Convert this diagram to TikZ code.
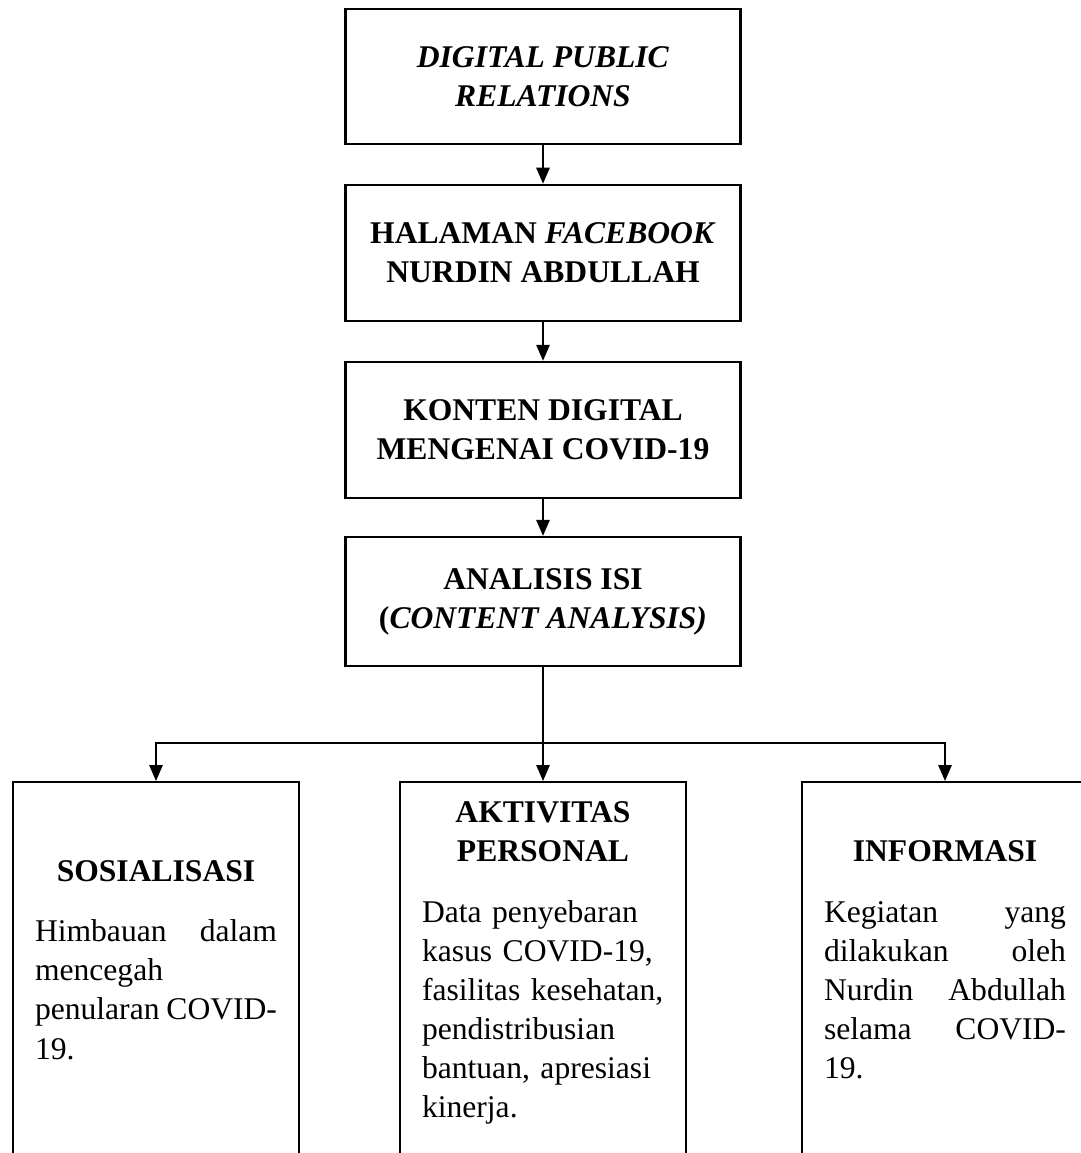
\documentclass[tikz,border=0pt]{standalone}
\usepackage{fontspec}
\setmainfont{Liberation Serif}
\usetikzlibrary{arrows.meta, positioning}
\tolerance=10000
\hyphenpenalty=10000

\begin{document}
\begin{tikzpicture}[
    x=0.75pt, y=0.75pt,
    node distance = 29pt,
    stage/.style = {rectangle, draw, line width=1.8pt, minimum width=296pt, align=center, font=\fontsize{23.7}{29.3}\selectfont\bfseries},
    branch/.style = {rectangle, draw, line width=1.8pt, minimum width=214.5pt, minimum height=450pt, anchor=north},
    desc/.style = {text width=181.5pt, inner sep=0pt, align=justify, font=\fontsize{23.7}{29.3}\selectfont},
    arrow/.style = {line width=1.4pt, -{Triangle[length=12pt, width=10pt]}}
]
    \useasboundingbox (0,0) rectangle (1081,-1153);
    \clip (0,0) rectangle (1081,-1153);

    % Nodes
    \node (dpr) [stage, minimum height=101pt] at (543,-76.5) {\textit{DIGITAL PUBLIC}\\\textit{RELATIONS}};
    \node (fb) [stage, minimum height=102pt, below=of dpr] {HALAMAN \textit{FACEBOOK}\\NURDIN ABDULLAH};
    \node (konten) [stage, minimum height=102pt, below=of fb] {KONTEN DIGITAL\\MENGENAI COVID-19};
    \node (isi) [stage, minimum height=96.75pt, below=27.5pt of konten] {ANALISIS ISI\\(\textit{CONTENT ANALYSIS)}};

    \node (sosbox) [branch] at (156,-781) {};
    \node (aktbox) [branch] at (isi.south |- 0,-781) {};
    \node (infbox) [branch] at (945,-781) {};

    \node (sos) [desc] at (156,-960) {{\centering\bfseries SOSIALISASI\par}\vspace{16pt}Himbauan dalam\linebreak mencegah\newline penularan COVID-\linebreak 19.};
    \node (akt) [desc, align=left] at (aktbox.north |- 0,-963) {{\centering\bfseries AKTIVITAS\par PERSONAL\par}\vspace{16pt}Data penyebaran\newline kasus COVID-19,\newline fasilitas kesehatan,\newline pendistribusian\newline bantuan, apresiasi\newline kinerja.};
    \node (inf) [desc] at (945,-960) {{\centering\bfseries INFORMASI\par}\vspace{16pt}Kegiatan yang\linebreak dilakukan oleh\linebreak Nurdin Abdullah\linebreak selama COVID-\linebreak 19.};

    % Arrows
    \coordinate (split) at (isi.south |- 0,-743);
    \draw [arrow] (dpr) -- (fb);
    \draw [arrow] (fb) -- (konten);
    \draw [arrow] (konten) -- (isi);
    \draw [arrow] (isi.south) -- (aktbox.north);
    \draw [arrow] (split) -| (sosbox.north);
    \draw [arrow] (split) -| (infbox.north);

\end{tikzpicture}
\end{document}
